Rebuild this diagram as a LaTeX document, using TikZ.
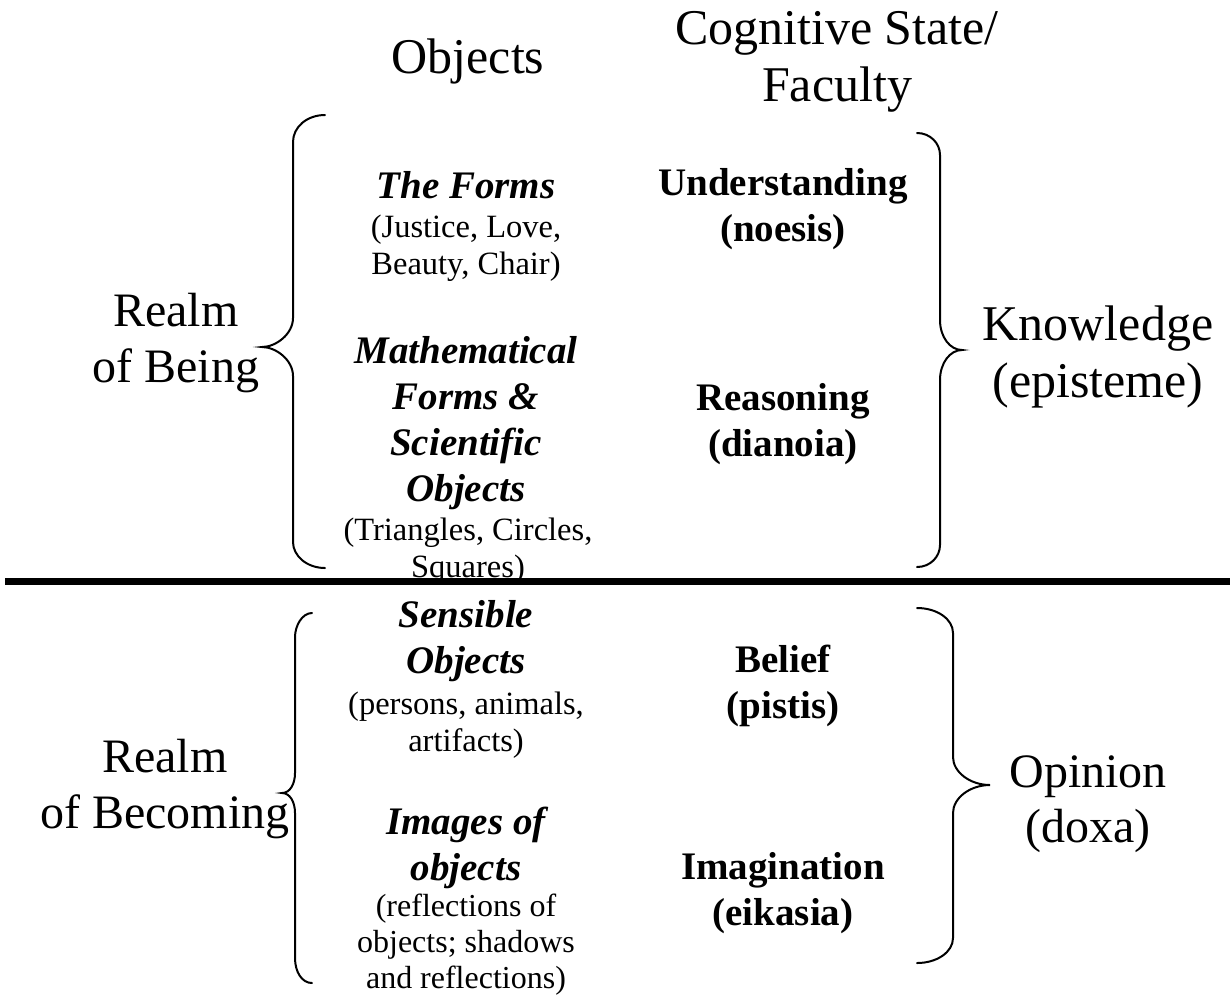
\documentclass[tikz,border=0pt]{standalone}
\usepackage{fontspec}
\setmainfont{Liberation Serif}
\begin{document}
\begin{tikzpicture}[x=1pt,y=-1pt,
  big/.style={inner sep=0pt, align=center, font=\fontsize{48}{55.5}\selectfont},
  head/.style={inner sep=0pt, align=center, font=\fontsize{50}{57}\selectfont},
  ttl/.style={inner sep=0pt, align=center, font=\fontsize{39}{46}\selectfont\bfseries\itshape},
  par/.style={inner sep=0pt, align=center, font=\fontsize{32.5}{37.5}\selectfont},
  fac/.style={inner sep=0pt, align=center, font=\fontsize{39}{45.5}\selectfont\bfseries},
  brace/.style={line width=2pt, line cap=round},
  divider/.style={line width=7pt}]
\useasboundingbox (0,0) rectangle (1230,994);

% headers
\node[head] (hobj) at (468,61) {Objects};
\node[head] (hcog) at (837,62) {Cognitive State/\\Faculty};

% realms
\node[big] (being) at (176,343) {Realm\\of Being};
\node[big] (becoming) at (165,789) {Realm\\of Becoming};

% right labels
\node[head] (know) at (1098,357) {Knowledge\\(episteme)};
\node[big] (opin) at (1088,804) {Opinion\\(doxa)};

% objects column
\node[ttl] (forms) at (466,185) {The Forms};
\node[par] (formsp) at (466,248) {(Justice, Love,\\Beauty, Chair)};
\node[ttl] (math) at (466,423) {Mathematical\\Forms \&\\Scientific\\Objects};
\node[par] (mathp) at (468,551) {(Triangles, Circles,\\Squares)};
\node[ttl] (sens) at (466,641) {Sensible\\Objects};
\node[par] (sensp) at (466,725) {(persons, animals,\\artifacts)};
\node[ttl] (img) at (466,848) {Images of\\objects};
\node[par, font=\fontsize{32}{36}\selectfont] (imgp) at (466,945) {(reflections of\\objects; shadows\\and reflections)};

% faculty column
\node[fac] (und) at (783,209) {Understanding\\(noesis)};
\node[fac] (rea) at (783,424) {Reasoning\\(dianoia)};
\node[fac] (bel) at (783,686) {Belief\\(pistis)};
\node[fac] (ima) at (783,893) {Imagination\\(eikasia)};

% divider
\draw[divider] (5,581) -- (1230,581);

% top-left brace
\draw[brace] (325,115) .. controls (307,115) and (293,127) .. (293,142) -- (293,318)
  .. controls (293,334) and (276,347) .. (262,347) .. controls (276,347) and (293,360) .. (293,376)
  -- (293,542) .. controls (293,556) and (307,568) .. (325,568);
% top-right brace
\draw[brace] (917,133) .. controls (930,133) and (940,143) .. (940,155) -- (940,320)
  .. controls (940,337) and (950,350) .. (962,350) .. controls (950,350) and (940,363) .. (940,380)
  -- (940,545) .. controls (940,557) and (930,567) .. (917,567);
% bottom-left brace
\draw[brace] (312,613) .. controls (302,613) and (295,626) .. (295,637) -- (295,773)
  .. controls (295,784) and (290,793) .. (282,793) .. controls (290,793) and (295,802) .. (295,813)
  -- (295,958) .. controls (295,972) and (302,983) .. (312,983);
% bottom-right brace
\draw[brace] (917,608) .. controls (937,608) and (953,619) .. (953,633) -- (953,757)
  .. controls (953,772) and (970,785) .. (990,785) .. controls (970,785) and (953,798) .. (953,813)
  -- (953,938) .. controls (953,952) and (937,963) .. (917,963);
\end{tikzpicture}
\end{document}
